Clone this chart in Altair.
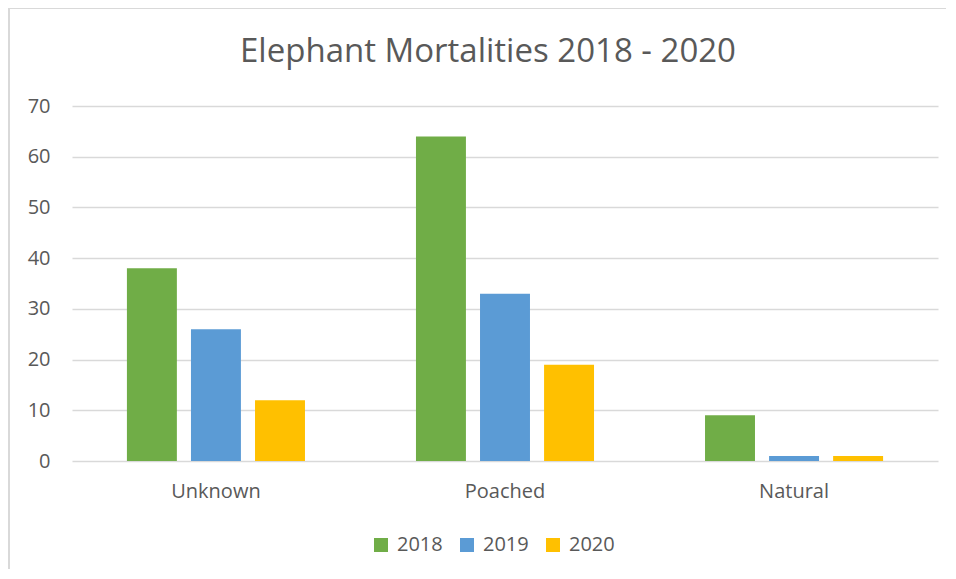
import altair as alt
import pandas as pd

categories = ["Unknown", "Poached", "Natural"]
years = ["2018", "2019", "2020"]
values_2018 = [38, 64, 9]
values_2019 = [26, 33, 1]
values_2020 = [12, 19, 1]
colors = ["#70AD47", "#5B9BD5", "#FFC000"]

rows = []
for yr, vals in zip(years, [values_2018, values_2019, values_2020]):
    for c, v in zip(categories, vals):
        rows.append({"cause": c, "year": yr, "count": v})
df = pd.DataFrame(rows)

FONT = "Open Sans"
TXT = "#595959"
GRID = "#D9D9D9"

bars = alt.Chart(df).mark_bar().encode(
    x=alt.X("cause:N", sort=categories, title=None,
            scale=alt.Scale(paddingInner=0.384, paddingOuter=0.19),
            axis=alt.Axis(labelAngle=0, labelFontSize=20, labelColor=TXT, labelFont=FONT,
                          labelPadding=20, ticks=False, domain=False, grid=False)),
    xOffset=alt.XOffset("year:N", sort=years, scale=alt.Scale(paddingInner=0.22, paddingOuter=0)),
    y=alt.Y("count:Q", title=None,
            scale=alt.Scale(domain=[0, 70], nice=False),
            axis=alt.Axis(values=list(range(0, 71, 10)), labelFontSize=20, labelColor=TXT,
                          labelFont=FONT, labelPadding=22, ticks=False, domain=False,
                          grid=True, gridColor=GRID, gridWidth=1.5)),
    color=alt.Color("year:N", sort=years, scale=alt.Scale(domain=years, range=colors),
                    legend=alt.Legend(title=None, orient="none", direction="horizontal",
                                      legendX=299, legendY=429, symbolType="square",
                                      symbolSize=196, symbolStrokeWidth=0, labelFontSize=20,
                                      labelColor=TXT, labelFont=FONT, labelOffset=6,
                                      columnPadding=14)),
)

frame_df = pd.DataFrame({"a": [0]})
left_border = alt.Chart(frame_df).mark_rule(color=GRID, strokeWidth=2).encode(
    x=alt.value(-63), y=alt.value(-98), y2=alt.value(500))
top_border = alt.Chart(frame_df).mark_rule(color=GRID, strokeWidth=2).encode(
    x=alt.value(-63), x2=alt.value(880), y=alt.value(-98))

chart = alt.layer(bars, left_border, top_border).properties(
    width=866, height=355,
    background="white",
    title=alt.TitleParams("Elephant Mortalities 2018 - 2020", fontSize=33, font=FONT,
                          color=TXT, fontWeight="normal", anchor="middle", dx=-17, offset=-62),
    autosize=alt.AutoSizeParams(type="none"),
    padding={"left": 64, "top": 98, "right": 8, "bottom": 108},
).configure_view(strokeWidth=0, stroke="transparent")

chart.save("out.html", embed_options={"renderer": "svg", "actions": False})
